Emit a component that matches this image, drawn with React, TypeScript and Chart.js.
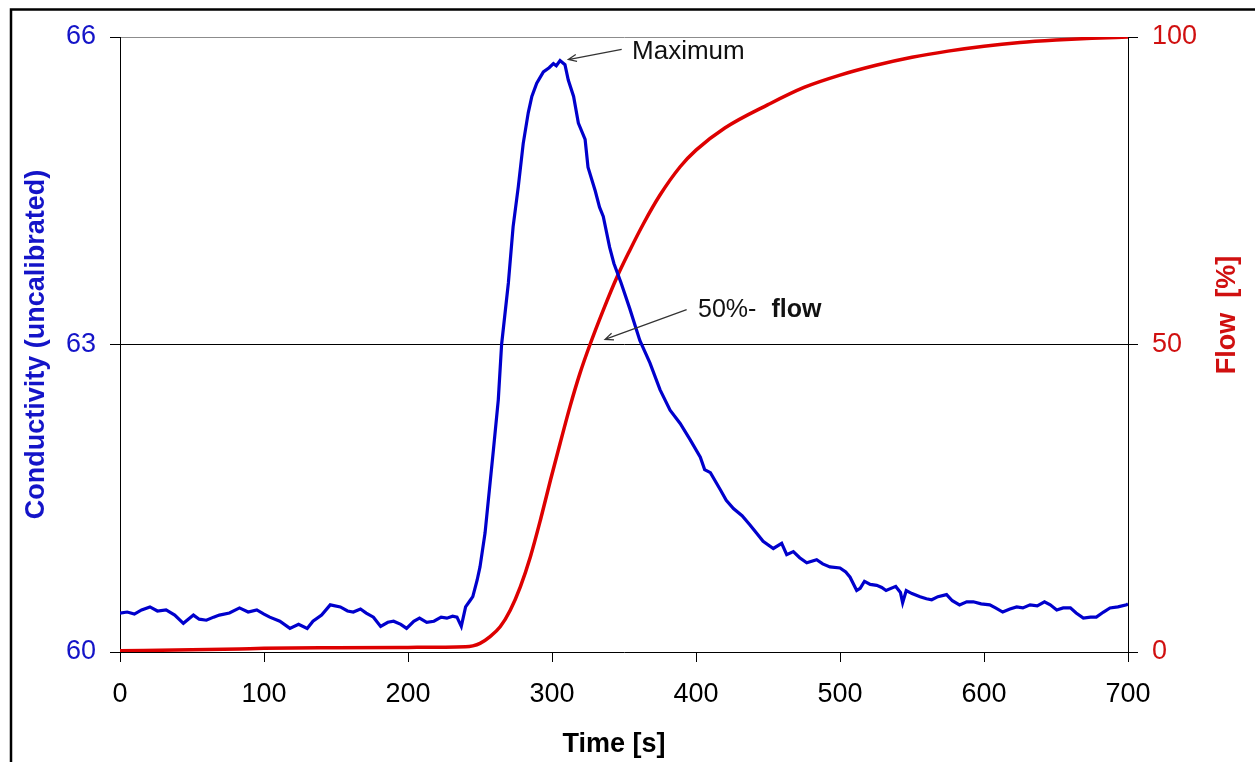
import React, { useEffect, useRef } from "react";
import { Chart, registerables } from "chart.js";

Chart.register(...registerables);

// Conductivity (uncalibrated), left axis
const condTime = [
  0, 5, 10, 15, 20.8, 26, 32, 38, 44, 51, 55, 60, 65, 69, 76, 83, 89, 95, 100, 104,
  111, 118, 124, 130, 134, 140, 146, 153, 158, 162, 167, 171, 176, 181, 186, 190, 195, 199, 204, 208,
  213, 218, 223, 227, 231, 234, 237, 240, 243, 245, 248, 250, 253.5, 257, 259.3, 262.7, 265, 269.7, 273, 276.6,
  280, 283.5, 286, 289.4, 294, 298, 301, 303, 305.6, 309, 311.3, 315, 318.3, 323, 325, 330, 333, 335.6, 340, 343,
  348, 354, 361, 368, 375, 382, 389, 396, 403, 406, 410, 417, 421, 426, 432, 437.5, 442, 446.6, 453.7, 459.5,
  463, 467.6, 472, 476.9, 483.8, 488, 493, 500, 504, 507, 511.6, 514, 517, 521, 525.5, 529, 532, 538.7, 542, 543.5,
  546, 550, 555.6, 560, 563.7, 568, 574, 578, 583, 588, 592.6, 598, 604, 608, 613, 618, 622.7, 627, 632, 637,
  642, 646, 650.5, 655, 660, 664, 669, 674, 678, 683, 687.5, 693, 699, 700,
];
const condValue = [
  60.38, 60.39, 60.37, 60.41, 60.44, 60.4, 60.41, 60.36, 60.28, 60.36, 60.32, 60.31, 60.34, 60.36, 60.38, 60.43, 60.39, 60.41, 60.37, 60.34,
  60.3, 60.23, 60.27, 60.23, 60.3, 60.36, 60.46, 60.44, 60.4, 60.39, 60.42, 60.38, 60.34, 60.25, 60.29, 60.3, 60.27, 60.23, 60.3, 60.33,
  60.29, 60.3, 60.34, 60.33, 60.35, 60.34, 60.25, 60.44, 60.5, 60.54, 60.7, 60.83, 61.16, 61.65, 61.97, 62.46, 63.0, 63.6, 64.15, 64.54,
  64.96, 65.26, 65.42, 65.55, 65.66, 65.7, 65.74, 65.72, 65.77, 65.73, 65.58, 65.42, 65.16, 65.0, 64.73, 64.5, 64.34, 64.25, 63.95, 63.79,
  63.6, 63.35, 63.04, 62.82, 62.56, 62.36, 62.23, 62.07, 61.9, 61.78, 61.75, 61.58, 61.48, 61.4, 61.33, 61.24, 61.16, 61.08, 61.01, 61.06,
  60.95, 60.98, 60.92, 60.87, 60.9, 60.86, 60.83, 60.82, 60.78, 60.73, 60.6, 60.62, 60.69, 60.66, 60.65, 60.63, 60.6, 60.64, 60.58, 60.48,
  60.6, 60.57, 60.54, 60.52, 60.51, 60.54, 60.56, 60.5, 60.46, 60.49, 60.49, 60.47, 60.46, 60.43, 60.39, 60.42, 60.44, 60.43, 60.46, 60.45,
  60.49, 60.46, 60.41, 60.43, 60.43, 60.38, 60.33, 60.34, 60.34, 60.39, 60.43, 60.44, 60.46, 60.47,
];

// Flow [%], right axis
const flowTime = [
  0, 50, 83, 100, 150, 200, 240, 245, 250, 257, 264, 271, 278, 285, 292, 299, 305.6, 312.5, 319.4, 326.4,
  335.6, 345, 354, 363.4, 375, 389, 400, 420, 450, 475, 500, 525, 550, 575, 600, 625, 650, 675, 700,
];
const flowValue = [
  0.2, 0.35, 0.5, 0.6, 0.7, 0.75, 0.85, 1.0, 1.4, 2.5, 4.1, 6.8, 10.6, 15.5, 21.5, 28, 33.9, 39.9, 45.3, 50.0,
  55.6, 60.9, 65.3, 69.6, 74.3, 78.9, 81.6, 85.2, 89, 91.8, 93.8, 95.4, 96.7, 97.7, 98.5, 99.1, 99.5, 99.8, 100,
];

const xTickStep = 100;
const leftTickStep = 3;
const rightTickStep = 50;

const FONT = "'Liberation Sans', Arial, Helvetica, sans-serif";
const BLUE_LINE = "#0000CC";
const BLUE_TEXT = "#1414C8";
const RED_LINE = "#DD0000";
const RED_TEXT = "#D01010";

function arrow(ctx: CanvasRenderingContext2D, x1: number, y1: number, x2: number, y2: number) {
  ctx.save();
  ctx.strokeStyle = "#333";
  ctx.lineWidth = 1.2;
  ctx.beginPath();
  ctx.moveTo(x1, y1);
  ctx.lineTo(x2, y2);
  const a = Math.atan2(y2 - y1, x2 - x1);
  const L = 9;
  ctx.moveTo(x2 - L * Math.cos(a - 0.4), y2 - L * Math.sin(a - 0.4));
  ctx.lineTo(x2, y2);
  ctx.lineTo(x2 - L * Math.cos(a + 0.4), y2 - L * Math.sin(a + 0.4));
  ctx.stroke();
  ctx.restore();
}

const overlay = {
  id: "overlay",
  afterDraw(chart: any) {
    const ctx: CanvasRenderingContext2D = chart.ctx;
    const xs = chart.scales.x;
    const ys = chart.scales.y;
    const ca = chart.chartArea;
    ctx.save();
    // outer frame
    ctx.strokeStyle = "#000";
    ctx.lineWidth = 2.5;
    ctx.strokeRect(11, 9.5, 1400, 900);

    // axis titles
    ctx.textAlign = "center";
    ctx.textBaseline = "middle";
    ctx.font = `bold 27px ${FONT}`;
    ctx.fillStyle = BLUE_TEXT;
    ctx.save();
    ctx.translate(37, (ca.top + ca.bottom) / 2);
    ctx.rotate(-Math.PI / 2);
    ctx.fillText("Conductivity (uncalibrated)", 0, 0);
    ctx.restore();

    ctx.fillStyle = RED_TEXT;
    ctx.save();
    ctx.translate(1228, ca.top + 278);
    ctx.rotate(-Math.PI / 2);
    ctx.fillText("Flow  [%]", 0, 0);
    ctx.restore();

    ctx.fillStyle = "#000";
    ctx.fillText("Time [s]", (ca.left + ca.right) / 2 - 10, 745);

    // annotations
    ctx.textAlign = "left";
    ctx.textBaseline = "alphabetic";
    ctx.font = `26px ${FONT}`;
    ctx.fillStyle = "#111";
    ctx.fillText("Maximum", xs.getPixelForValue(355.6), ys.getPixelForValue(65.79));
    arrow(ctx, xs.getPixelForValue(348.4), ys.getPixelForValue(65.88), xs.getPixelForValue(311.3), ys.getPixelForValue(65.78));

    ctx.font = `25px ${FONT}`;
    const tx = xs.getPixelForValue(401.4);
    const ty = ys.getPixelForValue(63.265);
    ctx.fillText("50%-", tx, ty);
    const w = ctx.measureText("50%-").width;
    ctx.font = `bold 25px ${FONT}`;
    ctx.fillText("flow", tx + w + 15, ty);
    arrow(ctx, xs.getPixelForValue(393.5), ys.getPixelForValue(63.34), xs.getPixelForValue(336.8), ys.getPixelForValue(63.05));
    ctx.restore();
  },
};

export default function App() {
  const ref = useRef<HTMLCanvasElement | null>(null);
  useEffect(() => {
    if (!ref.current) return;
    const condData = condTime.map((t, i) => ({ x: t, y: condValue[i] }));
    const flowData = flowTime.map((t, i) => ({ x: t, y: flowValue[i] }));
    const chart = new Chart(ref.current, {
      type: "line",
      data: {
        datasets: [
          {
            label: "Conductivity",
            data: condData,
            borderColor: BLUE_LINE,
            borderWidth: 3.2,
            pointRadius: 0,
            tension: 0,
            yAxisID: "y",
          },
          {
            label: "Flow",
            data: flowData,
            borderColor: RED_LINE,
            borderWidth: 3.5,
            pointRadius: 0,
            cubicInterpolationMode: "monotone",
            yAxisID: "y2",
          },
        ],
      },
      options: {
        responsive: false,
        animation: false,
        layout: { padding: { top: 37, left: 0, right: 0, bottom: 0 } },
        plugins: { legend: { display: false }, tooltip: { enabled: false } },
        scales: {
          x: {
            type: "linear",
            min: 0,
            max: 700,
            ticks: { stepSize: xTickStep, color: "#000", font: { size: 27, family: FONT }, padding: 16, maxRotation: 0 },
            grid: { drawOnChartArea: false, tickLength: 10, tickColor: "#000", tickWidth: 1 },
            border: { color: "#000", width: 1 },
            afterFit: (s: any) => { s.height = 110; },
          },
          y: {
            type: "linear",
            position: "left",
            min: 60,
            max: 66,
            ticks: { stepSize: leftTickStep, color: BLUE_TEXT, font: { size: 27, family: FONT }, padding: 14 },
            grid: {
              color: (c: any) => (c.tick && c.tick.value === 63 ? "#000" : c.tick && c.tick.value === 66 ? "#8c8c8c" : "rgba(0,0,0,0)"),
              lineWidth: 1,
              tickLength: 10,
              tickColor: "#000",
              tickWidth: 1,
            },
            border: { color: "#000", width: 1 },
            afterFit: (s: any) => { s.width = 120; },
          },
          y2: {
            type: "linear",
            position: "right",
            min: 0,
            max: 100,
            ticks: { stepSize: rightTickStep, color: RED_TEXT, font: { size: 27, family: FONT }, padding: 14 },
            grid: { drawOnChartArea: false, tickLength: 10, tickColor: "#000", tickWidth: 1 },
            border: { color: "#000", width: 1 },
            afterFit: (s: any) => { s.width = 127; },
          },
        },
      },
      plugins: [overlay],
    });
    return () => chart.destroy();
  }, []);
  return (
    <div style={{ position: "absolute", left: 0, top: 0, width: 1255, height: 762, background: "#fff" }}>
      <canvas ref={ref} width={1255} height={762} />
    </div>
  );
}
